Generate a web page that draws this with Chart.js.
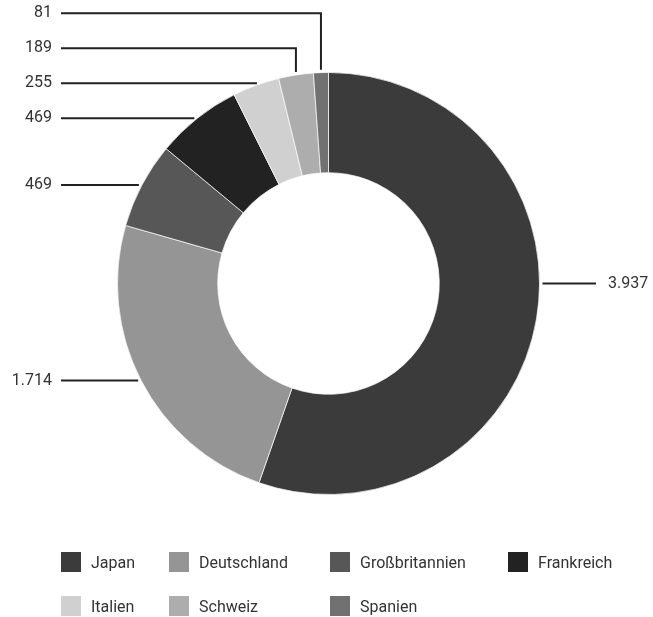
<!DOCTYPE html>
<html>
<head>
<meta charset="utf-8">
<script src="https://cdn.jsdelivr.net/npm/chart.js@4"></script>
<style>
  html, body { margin: 0; padding: 0; background: #fff; }
  #wrap { position: relative; width: 653px; height: 617px; font-family: Roboto, "Noto Sans", sans-serif; }
  #c { position: absolute; left: 0; top: 0; }
  .lg { position: absolute; display: flex; align-items: center; font-size: 16px; color: #333; white-space: nowrap; }
  .lg span.b { display: inline-block; width: 20px; height: 20px; margin-right: 10px; }
</style>
</head>
<body>
<div id="wrap">
  <canvas id="c" width="653" height="617"></canvas>
</div>
<script>
const categories = ["Japan", "Deutschland", "Großbritannien", "Frankreich", "Italien", "Schweiz", "Spanien"];
const values = [3937, 1714, 469, 469, 255, 189, 81];
const colors = ["#3b3b3b", "#959595", "#575757", "#222222", "#d0d0d0", "#adadad", "#717171"];

// legend layout (grid positions)
const legendCols = [61, 169, 330, 508];
const legendRows = [562, 606];

function fmt(v) {
  return String(v).replace(/\B(?=(\d{3})+(?!\d))/g, ".");
}

const leaderPlugin = {
  id: "leaders",
  afterDraw(chart) {
    const ctx = chart.ctx;
    const arcs = chart.getDatasetMeta(0).data;
    const ds = chart.data.datasets[0].data;
    const items = arcs.map((arc, i) => {
      const p = arc.getProps(["x", "y", "startAngle", "endAngle", "outerRadius"], true);
      const span = p.endAngle - p.startAngle;
      let ang = (p.startAngle + p.endAngle) / 2;
      if (span > Math.PI) {
        // very large slice: anchor at its horizontal extreme
        const n = Math.cos(ang) >= 0 ? 0 : Math.PI;
        ang = n;
      }
      return {
        i, cx: p.x, cy: p.y, R: p.outerRadius,
        ax: p.x + p.outerRadius * Math.cos(ang),
        ay: p.y + p.outerRadius * Math.sin(ang),
        right: Math.cos(ang) >= 0,
        text: fmt(ds[i])
      };
    });
    const gap = 35;
    const left = items.filter(o => !o.right).sort((a, b) => b.ay - a.ay);
    let prev = Infinity;
    left.forEach(o => { o.ly = Math.min(o.ay, prev - gap); prev = o.ly; });
    const right = items.filter(o => o.right).sort((a, b) => a.ay - b.ay);
    prev = -Infinity;
    right.forEach(o => { o.ly = Math.max(o.ay, prev + gap); prev = o.ly; });

    ctx.save();
    ctx.strokeStyle = "#222";
    ctx.lineWidth = 2;
    ctx.fillStyle = "#333";
    ctx.font = "16px Roboto, 'Noto Sans', sans-serif";
    ctx.textBaseline = "middle";
    const ca = chart.chartArea;
    const lineStartL = ca.left - 56;
    const textRightL = ca.left - 65;
    const lineEndR = ca.right + 56;
    const textLeftR = ca.right + 68;
    const off = 3;
    left.forEach(o => {
      ctx.beginPath();
      ctx.moveTo(lineStartL, o.ly);
      if (Math.abs(o.ly - o.ay) < 0.5) {
        const dy = o.ly - o.cy;
        const ex = o.cx - Math.sqrt(Math.max(o.R * o.R - dy * dy, 0)) - off;
        ctx.lineTo(ex, o.ly);
      } else {
        const dx = o.ax - o.cx;
        const ey = o.cy - Math.sqrt(Math.max(o.R * o.R - dx * dx, 0)) - off;
        ctx.lineTo(o.ax, o.ly);
        ctx.lineTo(o.ax, ey);
      }
      ctx.stroke();
      ctx.textAlign = "right";
      ctx.fillText(o.text, textRightL, o.ly);
    });
    right.forEach(o => {
      ctx.beginPath();
      const dy = o.ly - o.cy;
      const ex = o.cx + Math.sqrt(Math.max(o.R * o.R - dy * dy, 0)) + off;
      ctx.moveTo(ex, o.ly);
      ctx.lineTo(lineEndR, o.ly);
      ctx.stroke();
      ctx.textAlign = "left";
      ctx.fillText(o.text, textLeftR, o.ly);
    });
    ctx.restore();
  }
};

new Chart(document.getElementById("c"), {
  type: "doughnut",
  data: {
    labels: categories,
    datasets: [{
      data: values,
      backgroundColor: colors,
      borderColor: "rgba(255,255,255,0.7)",
      borderWidth: 1
    }]
  },
  options: {
    responsive: false,
    animation: false,
    cutout: "52.5%",
    layout: { padding: { left: 117, right: 113, top: 72, bottom: 122 } },
    plugins: { legend: { display: false }, tooltip: { enabled: false } }
  },
  plugins: [leaderPlugin]
});

// HTML legend in a grid
const wrap = document.getElementById("wrap");
categories.forEach((name, i) => {
  const col = i % legendCols.length;
  const row = Math.floor(i / legendCols.length);
  const d = document.createElement("div");
  d.className = "lg";
  d.style.left = legendCols[col] + "px";
  d.style.top = (legendRows[row] - 10) + "px";
  d.style.height = "20px";
  const b = document.createElement("span");
  b.className = "b";
  b.style.background = colors[i];
  const t = document.createElement("span");
  t.textContent = name;
  d.appendChild(b);
  d.appendChild(t);
  wrap.appendChild(d);
});
</script>
</body>
</html>
